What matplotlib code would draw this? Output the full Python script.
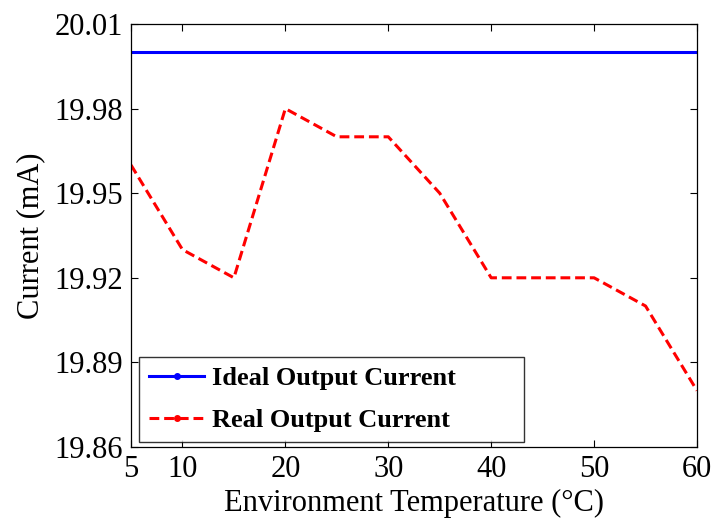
import matplotlib
matplotlib.use("Agg")
import matplotlib.pyplot as plt
from matplotlib.lines import Line2D

temps = [5, 10, 15, 20, 25, 30, 35, 40, 45, 50, 55, 60]
ideal = [20.00] * len(temps)
real = [19.96, 19.93, 19.92, 19.98, 19.97, 19.97, 19.95, 19.92, 19.92, 19.92, 19.91, 19.88]
xticks = [5, 10, 20, 30, 40, 50, 60]
yticks = [19.86, 19.89, 19.92, 19.95, 19.98, 20.01]

plt.rcParams['font.family'] = ['Liberation Serif', 'DejaVu Serif']
fig = plt.figure(figsize=(7.13, 5.19), dpi=100)
ax = fig.add_axes([131/713, 1-447/519, (697-131)/713, (447-24)/519])
ax.plot(temps, ideal, color='#0000ff', lw=2.2, linestyle='-')
ax.plot(temps, real, color='#ff0000', lw=2.2, linestyle=(0, (3.2, 1.6)))
ax.set_xlim(5, 60)
ax.set_ylim(19.86, 20.01)
ax.set_xticks(xticks)
ax.set_yticks(yticks)
ax.set_yticklabels([f"{v:.2f}" for v in yticks])
ax.tick_params(direction='in', top=True, right=True, labelsize=22, length=5, width=0.8, pad=6)
for s in ax.spines.values():
    s.set_linewidth(0.9)
ax.set_xlabel('Environment Temperature (°C)', fontsize=22, labelpad=3)
ax.set_ylabel('Current (mA)', fontsize=22, labelpad=6)

handles = [
    Line2D([], [], color='#0000ff', lw=2.2, linestyle='-', marker='o', markersize=4),
    Line2D([], [], color='#ff0000', lw=2.2, linestyle=(0, (3.2, 1.6)), marker='o', markersize=4),
]
leg = ax.legend(handles, ['Ideal Output Current', 'Real Output Current'],
                loc='lower left', bbox_to_anchor=(8/566, 5/423, 385/566, 87/423), mode='expand',
                prop={'weight': 'bold', 'size': 19}, frameon=True, fancybox=False,
                edgecolor='black', handlelength=2.1, borderpad=0.38, labelspacing=0.7,
                handletextpad=0.3, borderaxespad=0)
leg.get_frame().set_linewidth(1.0)
fig.savefig('out.png', dpi=100)
